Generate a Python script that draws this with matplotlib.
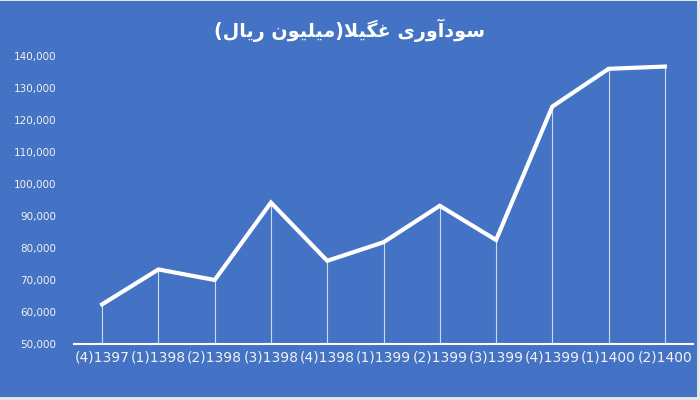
import matplotlib
matplotlib.use("Agg")
import matplotlib.pyplot as plt
from matplotlib.patches import Rectangle
from matplotlib.ticker import FuncFormatter

# data (million rials)
quarters = ["(4)1397", "(1)1398", "(2)1398", "(3)1398", "(4)1398", "(1)1399",
            "(2)1399", "(3)1399", "(4)1399", "(1)1400", "(2)1400"]
profit = [62400, 73300, 70000, 94200, 76000, 81800, 93200, 82500, 124200, 136000, 136700]

# title: "سودآوری غگیلا(میلیون ریال)" written in shaped presentation forms,
# visual (left-to-right) order, since matplotlib has no Arabic shaping
w_riyal = "\uFEAD\uFEF3\uFE8E\uFEDD"              # ریال
w_milyun = "\uFEE3\uFEF4\uFEE0\uFEF4\uFEEE\uFEE5"  # میلیون
w_ghegila = "\uFECF\uFB95\uFEF4\uFEFC"             # غگیلا
w_sudavari = "\uFEB3\uFEEE\uFEA9\uFE81\uFEED\uFEAD\uFEEF"  # سودآوری
title = "(" + w_riyal[::-1] + " " + w_milyun[::-1] + ")" + w_ghegila[::-1] + " " + w_sudavari[::-1]

BLUE = "#4472C4"
WHITE = "#FFFFFF"

fig = plt.figure(figsize=(7, 4), dpi=100)
fig.patch.set_facecolor("#E6E6E6")
fig.patches.append(Rectangle((0, 3 / 400), 697 / 700, 396 / 400, transform=fig.transFigure,
                             facecolor=BLUE, edgecolor="none", zorder=-5))

ax = fig.add_axes([74 / 700, 56 / 400, 619 / 700, 288 / 400])
ax.set_zorder(2)
ax.set_facecolor(BLUE)

x = list(range(len(quarters)))
ax.vlines(x, 50000, profit, colors=WHITE, linewidth=0.8, alpha=0.75, zorder=2)
ax.plot(x, profit, color=WHITE, linewidth=3, solid_joinstyle="miter", zorder=3)

ax.set_xlim(-0.5, len(quarters) - 0.5)
ax.set_ylim(50000, 140000)
ax.set_yticks(range(50000, 140001, 10000))
ax.yaxis.set_major_formatter(FuncFormatter(lambda v, p: f"{int(v):,}"))
ax.set_xticks(x)
ax.set_xticklabels(quarters)

for s in ["top", "right", "left"]:
    ax.spines[s].set_visible(False)
ax.spines["bottom"].set_color(WHITE)
ax.spines["bottom"].set_linewidth(1.5)

ax.tick_params(axis="y", length=0, pad=13, labelsize=7.5, labelcolor="#F2F2F2")
ax.tick_params(axis="x", length=0, pad=5, labelsize=10, labelcolor="#F2F2F2")

fig.text(0.5, 0.925, title, ha="center", va="center", color=WHITE,
         fontsize=13.8, fontweight="bold", family=["DejaVu Sans"], zorder=3)

fig.savefig("out.png", dpi=100, facecolor=fig.get_facecolor())
